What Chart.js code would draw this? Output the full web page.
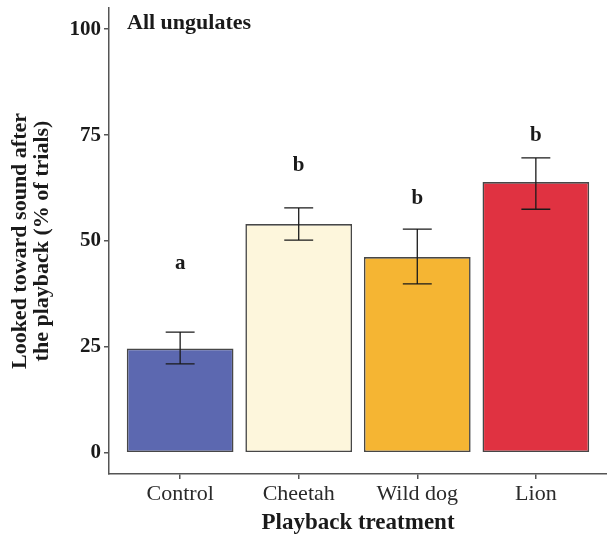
<!DOCTYPE html>
<html>
<head>
<meta charset="utf-8">
<script src="https://cdn.jsdelivr.net/npm/chart.js@4"></script>
<style>
  html, body { margin: 0; padding: 0; background: #fff; }
  #wrap { width: 607px; height: 536px; position: relative; }
</style>
</head>
<body>
<div id="wrap"><canvas id="c"></canvas></div>
<script>
// ---- data ----
const categories = ["Control", "Cheetah", "Wild dog", "Lion"];
const meanValues = [24.6, 54.0, 46.2, 63.9];
const errLow = [21.0, 50.2, 39.9, 57.5];
const errHigh = [28.5, 57.8, 52.8, 69.6];
const sigLetters = ["a", "b", "b", "b"];
const letterHeights = [44.6, 67.9, 60.1, 75.0];
const yTicks = [0, 25, 50, 75, 100];
const panelLabel = "All ungulates";

// ---- style ----
const fills = ["#5c68b0", "#fdf6dc", "#f5b533", "#e03241"];
const FONT = "'Liberation Serif', 'Times New Roman', serif";
const axisColor = "#555555";
const capHalf = 0.122;

const errorBars = {
  id: "errorBars",
  afterDatasetsDraw(chart) {
    const { ctx, scales: { x, y } } = chart;
    ctx.save();
    ctx.strokeStyle = "#1a1a1a";
    ctx.lineWidth = 1.3;
    categories.forEach((c, i) => {
      const cx = x.getPixelForValue(i + 1);
      const xl = x.getPixelForValue(i + 1 - capHalf);
      const xr = x.getPixelForValue(i + 1 + capHalf);
      const yl = y.getPixelForValue(errLow[i]);
      const yh = y.getPixelForValue(errHigh[i]);
      ctx.beginPath();
      ctx.moveTo(cx, yl); ctx.lineTo(cx, yh);
      ctx.moveTo(xl, yl); ctx.lineTo(xr, yl);
      ctx.moveTo(xl, yh); ctx.lineTo(xr, yh);
      ctx.stroke();
    });
    ctx.fillStyle = "#1a1a1a";
    ctx.font = "bold 21px " + FONT;
    ctx.textAlign = "center";
    ctx.textBaseline = "middle";
    sigLetters.forEach((l, i) => {
      ctx.fillText(l, x.getPixelForValue(i + 1), y.getPixelForValue(letterHeights[i]));
    });
    ctx.textAlign = "left";
    ctx.font = "bold 22px " + FONT;
    ctx.fillText(panelLabel, chart.chartArea.left + 18, chart.chartArea.top + 15);
    ctx.restore();
  }
};

new Chart(document.getElementById("c"), {
  type: "bar",
  data: {
    datasets: [{
      data: categories.map((c, i) => ({ x: i + 1, y: meanValues[i] })),
      backgroundColor: fills,
      borderColor: "rgba(0,0,0,0.72)",
      borderWidth: 1.6,
      borderSkipped: false,
      categoryPercentage: 1.0,
      barPercentage: 0.9
    }]
  },
  options: {
    responsive: true,
    maintainAspectRatio: false,
    animation: false,
    layout: { padding: { top: 8, right: 0, bottom: 0, left: 0 } },
    plugins: { legend: { display: false }, tooltip: { enabled: false } },
    scales: {
      x: {
        type: "linear",
        min: 0.4,
        max: 4.6,
        offset: false,
        afterBuildTicks(s) { s.ticks = categories.map((c, i) => ({ value: i + 1 })); },
        afterFit(s) { s.height = 62; s.paddingLeft = 0; s.paddingRight = 0; },
        ticks: {
          callback: (v) => categories[v - 1],
          color: "#2a2a2a",
          font: { family: FONT, size: 22 },
          padding: 2,
          maxRotation: 0,
          autoSkip: false
        },
        grid: { display: true, offset: false, drawOnChartArea: false, drawTicks: true, tickLength: 5, color: axisColor, lineWidth: 1.5 },
        border: { display: true, color: axisColor, width: 1.5 },
        title: {
          display: true,
          text: "Playback treatment",
          color: "#1a1a1a",
          font: { family: FONT, size: 23, weight: "bold", lineHeight: 1 },
          padding: { top: 0, bottom: 1.5 }
        }
      },
      y: {
        min: -5,
        max: 105,
        afterBuildTicks(s) { s.ticks = yTicks.map(v => ({ value: v })); },
        afterFit(s) { s.width = 109; s.paddingTop = 0; s.paddingBottom = 0; },
        ticks: {
          color: "#1a1a1a",
          font: { family: FONT, size: 21, weight: "bold" },
          padding: 3
        },
        grid: { display: true, drawOnChartArea: false, drawTicks: true, tickLength: 5, color: axisColor, lineWidth: 1.5 },
        border: { display: true, color: axisColor, width: 1.5 },
        title: {
          display: true,
          text: ["Looked toward sound after", "the playback (% of trials)"],
          color: "#1a1a1a",
          font: { family: FONT, size: 22, weight: "bold", lineHeight: 1 },
          padding: { top: 9, bottom: 0 }
        }
      }
    }
  },
  plugins: [errorBars]
});
</script>
</body>
</html>
